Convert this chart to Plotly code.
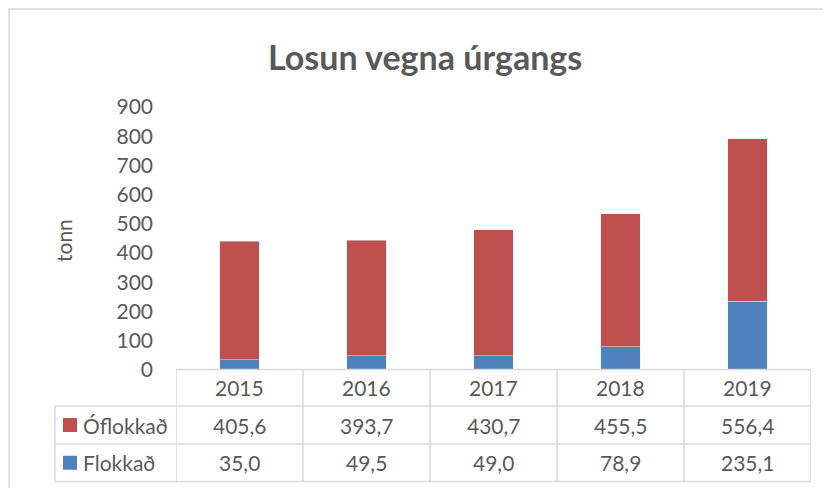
import plotly.graph_objects as go

years = ["2015", "2016", "2017", "2018", "2019"]
oflokkad = [405.6, 393.7, 430.7, 455.5, 556.4]
flokkad = [35.0, 49.5, 49.0, 78.9, 235.1]
y_ticks = [0, 100, 200, 300, 400, 500, 600, 700, 800, 900]
title_text = "Losun vegna úrgangs"
y_title = "tonn"

RED = "#C0504D"
BLUE = "#4F81BD"
TXT = "#595959"
GRID = "#D9D9D9"
FONT = "Lato, Open Sans, sans-serif"
FS = 21

# the page body adds an 8px offset; work in page pixels and subtract it
OFF = 8
W, H = 831 - OFF, 488 - OFF
L, R, T, B = 176, 811, 107, 370  # page-pixel plot area


def px(x):
    return (x - L) / (R - L)


def py(y):
    return (B - y) / (B - T)


def fmt(v):
    return f"{v:.1f}".replace(".", ",")


fig = go.Figure()
fig.add_bar(x=years, y=flokkad, name="Flokkað", marker_color=BLUE, width=0.31)
fig.add_bar(x=years, y=oflokkad, name="Óflokkað", marker_color=RED, width=0.31)

shapes = []
line = dict(color=GRID, width=1.5)
# chart border
shapes.append(dict(type="rect", xref="paper", yref="paper",
                   x0=px(9), x1=px(845), y0=py(9), y1=py(500),
                   line=line, fillcolor="rgba(0,0,0,0)"))
# table horizontal lines
rows_y = [369.5, 406, 444, 481.5]
shapes.append(dict(type="line", xref="paper", yref="paper", x0=px(L), x1=px(R),
                   y0=py(rows_y[0]), y1=py(rows_y[0]), line=line))
for yy in rows_y[1:]:
    shapes.append(dict(type="line", xref="paper", yref="paper", x0=px(55), x1=px(R),
                       y0=py(yy), y1=py(yy), line=line))
# vertical lines at category boundaries
for i in range(len(years) + 1):
    shapes.append(dict(type="line", xref="x", yref="paper", x0=i - 0.5, x1=i - 0.5,
                       y0=py(rows_y[0]), y1=py(rows_y[-1]), line=line))
shapes.append(dict(type="line", xref="paper", yref="paper", x0=px(55), x1=px(55),
                   y0=py(rows_y[1]), y1=py(rows_y[-1]), line=line))

annotations = []


def ann(text, x, y, xref="paper", size=FS, xanchor="center", **kw):
    annotations.append(dict(text=text, xref=xref, yref="paper", x=x, y=y,
                            xanchor=xanchor, yanchor="middle", showarrow=False,
                            font=dict(family=FONT, size=size, color=TXT), **kw))


ann(f"<b>{title_text}</b>", px(425), py(56), size=34)
ann(y_title, px(63), py(240), textangle=-90)

row_c = [(rows_y[i] + rows_y[i + 1]) / 2 for i in range(3)]
for i, yr in enumerate(years):
    ann(yr, i, py(row_c[0]), xref="x")

for name, vals, color, yc in [("Óflokkað", oflokkad, RED, row_c[1]),
                              ("Flokkað", flokkad, BLUE, row_c[2])]:
    shapes.append(dict(type="rect", xref="paper", yref="paper", x0=px(63), x1=px(77),
                       y0=py(yc - 7), y1=py(yc + 7), line=dict(width=0), fillcolor=color))
    ann(name, px(81), py(yc), xanchor="left")
    for i, v in enumerate(vals):
        ann(fmt(v), i, py(yc), xref="x")

fig.update_layout(
    width=W, height=H,
    margin=dict(l=L - OFF, r=W - (R - OFF), t=T - OFF, b=H - (B - OFF), pad=0),
    barmode="stack",
    showlegend=False,
    paper_bgcolor="white", plot_bgcolor="white",
    shapes=shapes, annotations=annotations,
    font=dict(family=FONT, color=TXT),
)
fig.update_xaxes(type="category", showticklabels=False, showgrid=False, zeroline=False,
                 showline=False, range=[-0.5, 4.5])
fig.update_yaxes(range=[0, 900], tickvals=y_ticks, showgrid=False, zeroline=False,
                 showline=False, ticks="", ticklabelstandoff=22,
                 tickfont=dict(family=FONT, size=FS, color=TXT))

fig.write_html("out.html")
